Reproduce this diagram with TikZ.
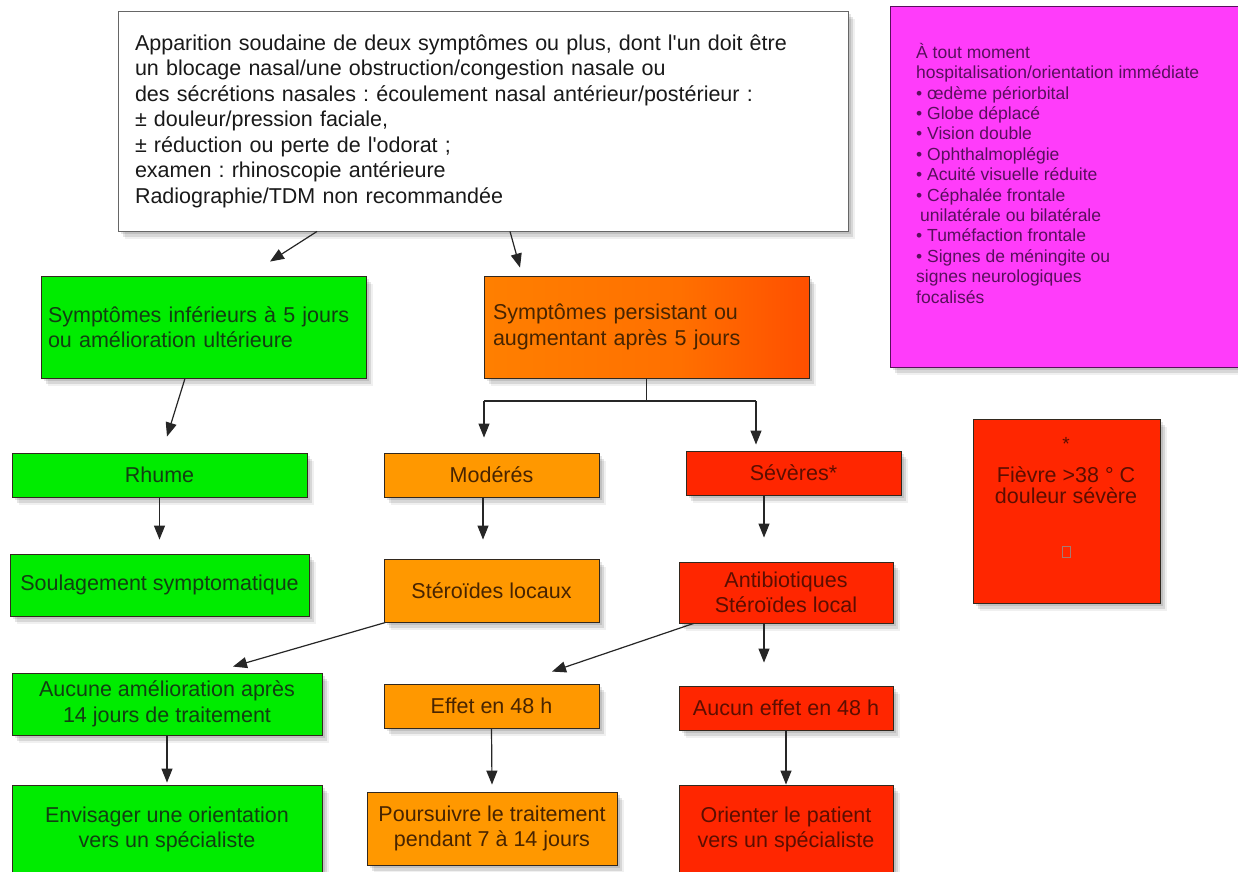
\documentclass[tikz,border=0pt]{standalone}
\usepackage{fontspec}
\setmainfont{Liberation Sans}
\frenchspacing
\usetikzlibrary{arrows.meta,calc,shadows}
\definecolor{cGreen}{RGB}{0,236,0}
\definecolor{cOrange}{RGB}{255,152,0}
\definecolor{cOrA}{RGB}{255,140,0}
\definecolor{cOrB}{RGB}{255,112,0}
\definecolor{cRed}{RGB}{255,38,0}
\definecolor{cMag}{RGB}{255,60,250}
\definecolor{tGreen}{RGB}{18,62,18}
\definecolor{tOrange}{RGB}{72,36,0}
\definecolor{tRed}{RGB}{92,14,0}
\definecolor{tMag}{RGB}{88,16,92}
\definecolor{cBorder}{RGB}{50,40,30}
\pgfdeclarehorizontalshading{orred}{100bp}{color(0bp)=(cOrA); color(55bp)=(cOrB); color(100bp)=(cRed)}
\newcommand{\apos}{\textquotesingle}
\begin{document}
\begin{tikzpicture}[x=1pt,y=-1pt,
  softshadow/.style={
    drop shadow={shadow xshift=3pt,shadow yshift=-3pt,opacity=0.10,fill=black},
    drop shadow={shadow xshift=5pt,shadow yshift=-6pt,opacity=0.10,fill=black},
    drop shadow={shadow xshift=7pt,shadow yshift=-8pt,opacity=0.06,fill=black}},
  box/.style={draw=cBorder, line width=0.9pt, inner sep=0pt,
    font=\fontsize{21.5}{25.5}\selectfont, align=center, softshadow},
  gbox/.style={box, fill=cGreen, text=tGreen},
  obox/.style={box, fill=cOrange, text=tOrange},
  rbox/.style={box, fill=cRed, text=tRed},
  arr/.style={-{Triangle[length=14pt,width=11pt]}, line width=1.2pt, draw=black!85},
  ln/.style={line width=1.2pt, draw=black!85}]
\useasboundingbox (0,0) rectangle (1238,871);
\fill[white] (0,0) rectangle (1238,871);
\clip (0,0) rectangle (1238,871);

% top box
\node[box, fill=white, draw=black!60, text=black!90, align=left, text width=696pt,
  minimum width=730pt, minimum height=220pt] (top) at (483,121)
  {Apparition soudaine de deux symptômes ou plus, dont l\apos un doit être\\
   un blocage nasal/une obstruction/congestion nasale ou\\
   des sécrétions nasales : écoulement nasal antérieur/postérieur :\\
   ± douleur/pression faciale,\\
   ± réduction ou perte de l\apos odorat ;\\
   examen : rhinoscopie antérieure\\
   Radiographie/TDM non recommandée};

% magenta box
\node[box, fill=cMag, draw=tMag, minimum width=360pt, minimum height=361pt] (mag) at (1070,186.5) {};
\node[anchor=north west, inner sep=0pt, align=left, text=tMag,
  font=\fontsize{17.5}{20.4}\selectfont] (magtxt) at (916,43)
  {À tout moment\\
   hospitalisation/orientation immédiate\\
   • œdème périorbital\\
   • Globe déplacé\\
   • Vision double\\
   • Ophthalmoplégie\\
   • Acuité visuelle réduite\\
   • Céphalée frontale\\
   \hspace*{4pt}unilatérale ou bilatérale\\
   • Tuméfaction frontale\\
   • Signes de méningite ou\\
   signes neurologiques\\
   focalisés};

% red note box
\node[rbox, minimum width=187pt, minimum height=184pt] (note) at (1066.5,511) {};
\node[text=tRed, inner sep=0pt, font=\fontsize{19}{21}\selectfont] (star) at (1066,444) {*};
\node[text=tRed, inner sep=0pt, align=center, font=\fontsize{21.5}{21}\selectfont] (fever) at (1066,485)
  {Fièvre >38 ° C\\douleur sévère};
\node[draw=tRed!55, line width=0.5pt, minimum width=8pt, minimum height=11pt, inner sep=0pt] (sq) at (1066,552) {};

% level 1
\node[gbox, align=left, text width=311pt, minimum width=325pt, minimum height=102pt] (green1) at (203.5,327)
  {Symptômes inférieurs à 5 jours\\ou amélioration ultérieure};
\node[box, shading=orred, text=tOrange, align=left, text width=307pt, minimum width=325pt, minimum height=102pt] (grad) at (646.5,327)
  {Symptômes persistant ou\\augmentant après 5 jours};

% level 2
\node[gbox, minimum width=295pt, minimum height=44pt] (rhume) at (159.5,475) {Rhume};
\node[obox, minimum width=215pt, minimum height=44pt] (mod) at (491.5,475) {Modérés};
\node[rbox, minimum width=215pt, minimum height=44pt] (sev) at (793.5,473) {Sévères*};

% level 3
\node[gbox, minimum width=299pt, minimum height=62pt] (soul) at (159.5,585) {Soulagement symptomatique};
\node[obox, minimum width=215pt, minimum height=63pt] (ster) at (491.5,590.5) {Stéroïdes locaux};
\node[rbox, minimum width=214pt, minimum height=61pt] (anti) at (786,592.5) {Antibiotiques\\Stéroïdes local};

% level 4
\node[gbox, minimum width=310pt, minimum height=62pt] (aucAm) at (167,704) {Aucune amélioration après\\14 jours de traitement};
\node[obox, minimum width=215pt, minimum height=44pt] (effet) at (491.5,706) {Effet en 48 h};
\node[rbox, minimum width=214pt, minimum height=44pt] (aucEff) at (786,708) {Aucun effet en 48 h};

% level 5
\node[gbox, minimum width=310pt, minimum height=89pt] (envis) at (167,829.5) {Envisager une orientation\\vers un spécialiste};
\node[obox, minimum width=250pt, minimum height=73pt] (pours) at (492,828.5) {Poursuivre le traitement\\pendant 7 à 14 jours};
\node[rbox, minimum width=214pt, minimum height=89pt] (orient) at (786,829.5) {Orienter le patient\\vers un spécialiste};

% connectors
\draw[arr] ($(top.south)+(-166,0)$) -- ($(green1.north)+(66.5,-14)$);
\draw[arr] ($(top.south)+(27,0)$) -- ($(grad.north)+(-126.5,-8)$);
\draw[arr] ($(green1.south)+(-18.5,0)$) -- ($(rhume.north)+(7.5,-16)$);
\draw[arr] (rhume.south) -- ($(soul.north)+(0,-14)$);
\coordinate (jL) at (484,401);
\coordinate (jR) at (756,401);
\draw[ln] (grad.south) -- (grad.south |- jL);
\draw[ln] (jL) -- (jR);
\draw[arr] (jL) -- ($(jL |- mod.north)+(0,-15)$);
\draw[arr] (jR) -- ($(jR |- sev.north)+(0,-6)$);
\draw[arr] ($(mod.south)+(-8.5,0)$) -- ($(ster.north)+(-8.5,-19)$);
\draw[arr] ($(sev.south)+(-29.5,0)$) -- ($(anti.north)+(-22,-24)$);
\draw[arr] ($(ster.south west)+(2,0)$) -- ($(aucAm.north)+(66,-6)$);
\draw[arr] ($(anti.south west)+(15,0)$) -- ($(effet.north)+(60.5,-12)$);
\draw[arr] ($(anti.south)+(-22,0)$) -- ($(aucEff.north)+(-22,-23)$);
\draw[arr] (aucAm.south) -- ($(envis.north)+(0,-2)$);
\draw[arr] (effet.south) -- ($(pours.north)+(0,-7)$);
\draw[arr] (aucEff.south) -- (orient.north);
\end{tikzpicture}
\end{document}
